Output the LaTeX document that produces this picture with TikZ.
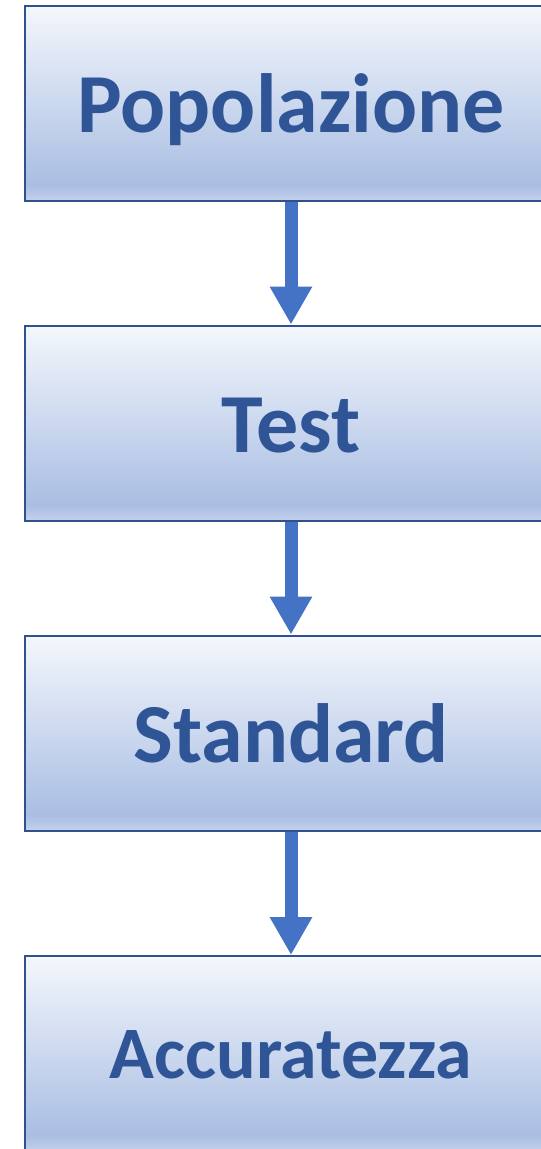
\documentclass[tikz,border=0pt]{standalone}
\usepackage{fontspec}
\setmainfont{Carlito}
\usetikzlibrary{arrows.meta}
\definecolor{boxline}{HTML}{2F528F}
\definecolor{boxtext}{HTML}{2F5597}
\definecolor{arrowblue}{HTML}{4472C4}
\definecolor{shadetop}{HTML}{F4F7FC}
\definecolor{shadelow}{HTML}{A9BEE3}
\definecolor{shadebot}{HTML}{C3D1EB}
\pgfdeclareverticalshading{boxshade}{100bp}{color(0bp)=(shadebot); color(25bp)=(shadebot); color(29bp)=(shadelow); color(75bp)=(shadetop); color(100bp)=(shadetop)}
\tikzset{
	stagebox/.style={draw=boxline, line width=2pt, shading=boxshade, minimum width=533pt, minimum height=195pt, inner sep=0pt, text=boxtext, text height=58pt, text depth=0pt, font=\fontsize{84}{84}\selectfont\bfseries},
	smalltext/.style={text height=50pt, font=\fontsize{74}{74}\selectfont\bfseries},
	flowarrow/.style={draw=arrowblue, line width=13pt, -{Triangle[width=40pt,length=38pt,fill=arrowblue]}}
}

\begin{document}
\begin{tikzpicture}[x=1pt, y=-1pt]
			%%%%% START %%%%%
			\useasboundingbox (0, 0) rectangle (541, 1149);
			\clip (0, 0) rectangle (541, 1149);
			
			\node[stagebox] (popolazione) at (291, 103.5) {Popolazione};
			\node[stagebox] (test) at (291, 423) {Test};
			\node[stagebox] (standard) at (291, 733) {Standard};
			\node[stagebox, smalltext] (accuratezza) at (291, 1053.5) {Accuratezza};
			
			\draw[flowarrow] (popolazione.south) -- (test.north);
			\draw[flowarrow] (test.south) -- (standard.north);
			\draw[flowarrow] (standard.south) -- (accuratezza.north);
			
			%%%%% END %%%%%
		\end{tikzpicture}
\end{document}
